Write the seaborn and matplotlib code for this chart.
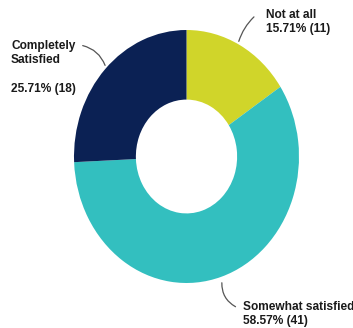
import matplotlib
matplotlib.use("Agg")
import matplotlib.pyplot as plt
from matplotlib.patches import FancyArrowPatch
import seaborn as sns

# Survey responses
categories = ["Not at all", "Somewhat satisfied", "Completely Satisfied"]
counts = [11, 41, 18]
percents = [15.71, 58.57, 25.71]
colors = ["#D0D52A", "#33BFBF", "#0B2154"]

sns.set_theme(style="white")
plt.rcParams["font.family"] = ["Liberation Sans", "DejaVu Sans"]

W, H = 353, 328
fig = plt.figure(figsize=(W / 100, H / 100), dpi=100)
fig.patch.set_facecolor("white")

# Donut axes placed in pixel terms (left, top, right, bottom)
L, T, R, B = 74, 30, 299, 283
ax = fig.add_axes([L / W, 1 - B / H, (R - L) / W, (B - T) / H])
ax.pie(counts, colors=colors, startangle=90, counterclock=False,
       wedgeprops=dict(width=0.55, edgecolor="none"))
ax.set_aspect("auto")
ax.set_xlim(-1, 1)
ax.set_ylim(-1, 1)
ax.axis("off")


def px(x, y):
    return (x / W, 1 - y / H)


txt_kw = dict(fontsize=8.6, fontweight="bold", color="#1a1a1a",
              ha="left", va="top", linespacing=1.26,
              transform=fig.transFigure)

fig.text(*px(266, 9), f"{categories[0]}\n{percents[0]:.2f}% ({counts[0]})", **txt_kw)
fig.text(*px(11, 40), f"Completely\nSatisfied\n\n{percents[2]:.2f}% ({counts[2]})", **txt_kw)
fig.text(*px(243, 301), f"{categories[1]}\n{percents[1]:.2f}% ({counts[1]})", **txt_kw)

# Leader lines
line_kw = dict(arrowstyle="-", color="#555555", lw=0.9,
               transform=fig.transFigure, mutation_scale=1)
fig.patches.append(FancyArrowPatch(px(256, 15), px(238, 44),
                                   connectionstyle="arc3,rad=0.15", **line_kw))
fig.patches.append(FancyArrowPatch(px(80, 45), px(106, 68),
                                   connectionstyle="arc3,rad=-0.3", **line_kw))
fig.patches.append(FancyArrowPatch(px(222, 280), px(238, 308),
                                   connectionstyle="arc3,rad=0.35", **line_kw))

fig.savefig("out.png", dpi=100, facecolor="white")
